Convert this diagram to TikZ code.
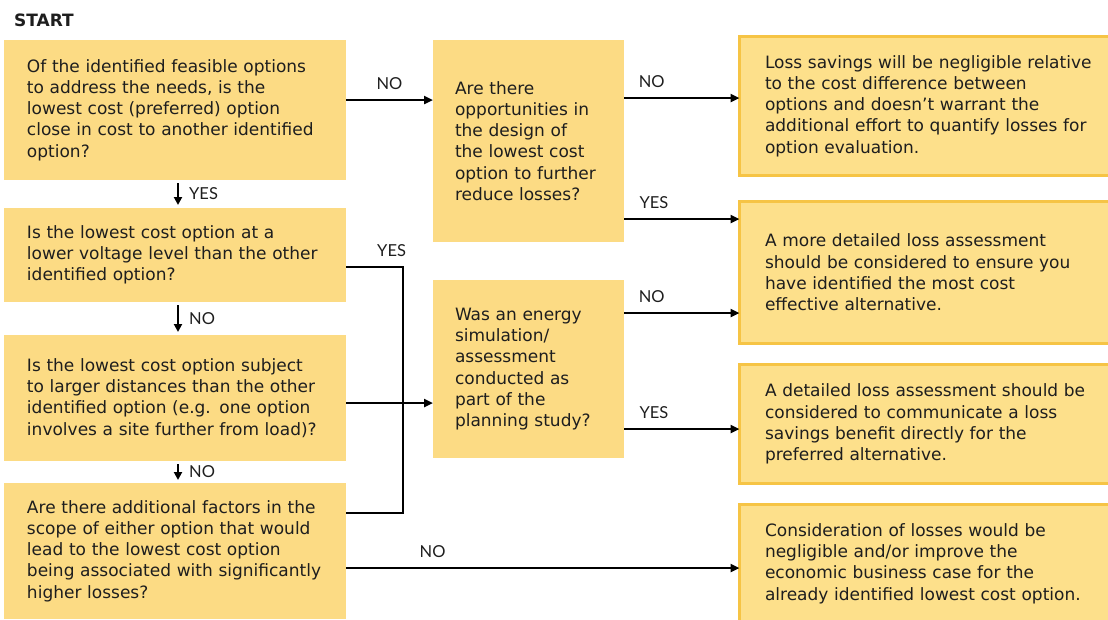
\documentclass[tikz,border=0pt]{standalone}
\usepackage{fontspec}
\setmainfont{DejaVu Sans}
\newfontfamily\lblfont{Lato}
\usetikzlibrary{arrows.meta}
\definecolor{boxfill}{HTML}{FCDB84}
\definecolor{endfill}{HTML}{FDE08B}
\definecolor{endline}{HTML}{F6C445}
\definecolor{ink}{HTML}{1E1E1E}
\tikzset{
  qbox/.style={fill=boxfill, draw=none, anchor=north west, align=left, text=ink,
    outer sep=0pt, font=\fontsize{17}{21.3}\selectfont},
  leftbox/.style={qbox, inner xsep=23pt, text width=296pt},
  midbox/.style={qbox, inner xsep=22pt, text width=147pt},
  endbox/.style={qbox, fill=endfill, draw=endline, line width=3pt,
    inner xsep=25.5pt, text width=360pt},
  arr/.style={line width=2.4pt, -{Triangle[length=9pt,width=8pt]}},
  conn/.style={line width=2.4pt},
  varr/.style={line width=2.4pt, -{Triangle[length=8pt,width=8pt]},
    shorten <=3pt, shorten >=3pt},
  lbl/.style={text=ink, inner sep=0pt, font={\lblfont\fontsize{16.5}{18}\selectfont}},
}
\begin{document}
\begin{tikzpicture}[x=1pt,y=-1pt]
    \clip (0,0) rectangle (1108,619);
    %% Start
    \node[anchor=base west, text=ink, inner sep=0pt, font=\fontsize{17}{20}\selectfont\bfseries]
        (start) at (14,26) {START};
    %% Questions on the left
    \node[leftbox, minimum height=140pt] (b1) at (4,40)
        {Of the identified feasible options\\ to address the needs, is the\\ lowest cost (preferred) option\\ close in cost to another identified\\ option?};
    \node[leftbox, minimum height=94pt] (b2) at (4,208)
        {Is the lowest cost option at a\\ lower voltage level than the other\\ identified option?};
    \node[leftbox, minimum height=126pt] (b3) at (4,335)
        {Is the lowest cost option subject\\ to larger distances than the other\\ identified option (e.g. one option\\ involves a site further from load)?};
    \node[leftbox, minimum height=136pt] (b4) at (4,483)
        {Are there additional factors in the\\ scope of either option that would\\ lead to the lowest cost option\\ being associated with significantly\\ higher losses?};
    %% Questions in the middle
    \node[midbox, minimum height=202pt] (m1) at (433,40)
        {Are there\\ opportunities in\\ the design of\\ the lowest cost\\ option to further\\ reduce losses?};
    \node[midbox, minimum height=178pt] (m2) at (433,280)
        {Was an energy\\ simulation/\\ assessment\\ conducted as\\ part of the\\ planning study?};
    %% Outcomes
    \node[endbox, minimum height=139pt] (r1) at (739.5,36.5)
        {Loss savings will be negligible relative\\ to the cost difference between\\ options and doesn’t warrant the\\ additional effort to quantify losses for\\ option evaluation.};
    \node[endbox, minimum height=142pt] (r2) at (739.5,201.5)
        {A more detailed loss assessment\\ should be considered to ensure you\\ have identified the most cost\\ effective alternative.};
    \node[endbox, minimum height=119pt] (r3) at (739.5,364.5)
        {A detailed loss assessment should be\\ considered to communicate a loss\\ savings benefit directly for the\\ preferred alternative.};
    \node[endbox, minimum height=118pt] (r4) at (739.5,504.5)
        {Consideration of losses would be\\ negligible and/or improve the\\ economic business case for the\\ already identified lowest cost option.};
    %% Down the left column
    \draw[varr] ([xshift=3pt]b1.south) -- node[lbl, right=10pt] {YES} ([xshift=3pt]b2.north);
    \draw[varr] ([xshift=3pt]b2.south) -- node[lbl, right=10pt] {NO} ([xshift=3pt]b3.north);
    \draw[varr] ([xshift=3pt]b3.south) -- node[lbl, right=10pt] {NO} ([xshift=3pt]b4.north);
    %% Across
    \draw[arr] ([yshift=10pt]b1.east) -- node[lbl, above=9pt] {NO} ([yshift=10pt]b1.east -| m1.west);
    \draw[arr] ([yshift=43pt]m1.east) -- node[lbl, above=9pt, pos=0.24] {NO} ([yshift=43pt]m1.east -| r1.west);
    \draw[arr] ([yshift=-78pt]m1.east) -- node[lbl, above=9pt, pos=0.26] {YES} ([yshift=-78pt]m1.east -| r2.west);
    \draw[arr] ([yshift=56pt]m2.east) -- node[lbl, above=9pt, pos=0.24] {NO} ([yshift=56pt]m2.east -| r2.west);
    \draw[arr] ([yshift=-60pt]m2.east) -- node[lbl, above=9pt, pos=0.26] {YES} ([yshift=-60pt]m2.east -| r3.west);
    \draw[arr] ([yshift=-17pt]b4.east) -- node[lbl, above=9pt, pos=0.22] {NO} ([yshift=-17pt]b4.east -| r4.west);
    %% Bracket into the second question
    \coordinate (jtop) at (403,267);
    \coordinate (jmid) at (403,403);
    \coordinate (jbot) at (403,513);
    \draw[conn] (b2.east |- jtop) -- node[lbl, above=9pt, pos=0.8] {YES} (jtop) -- (jbot) -- (b4.east |- jbot);
    \draw[arr] (b3.east |- jmid) -- (m2.west |- jmid);
\end{tikzpicture}
\end{document}
